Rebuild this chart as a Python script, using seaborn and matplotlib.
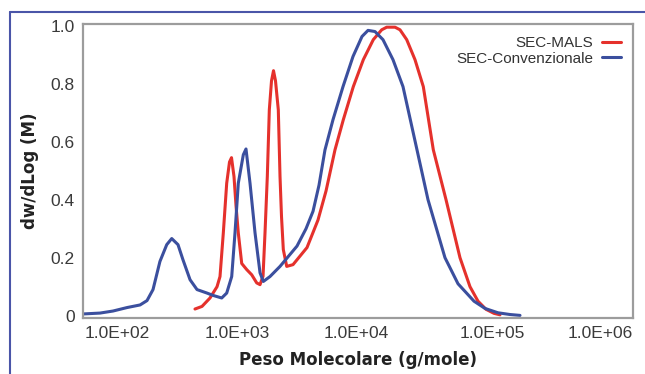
import numpy as np
import pandas as pd
import matplotlib
matplotlib.use("Agg")
import matplotlib.pyplot as plt
import seaborn as sns
from matplotlib.lines import Line2D
from matplotlib.transforms import ScaledTranslation
from matplotlib.ticker import FixedLocator, NullFormatter

# ---- data ----
blue_mw = [92.3, 122.7, 153, 194.5, 243, 273.5, 303, 341, 383, 417, 464, 505, 570, 642,
           761, 843, 978, 1065, 1160, 1227, 1298, 1414, 1480, 1585, 1726, 1880, 1989,
           2229, 2644, 3532, 4120, 4642, 5141, 5694, 6528, 7743, 9183, 10706, 11860,
           13360, 15310, 18160, 21540, 27350, 33000, 44080, 55060, 72300, 87250,
           108900, 133600, 158500]
blue_val = [0.006, 0.009, 0.016, 0.028, 0.037, 0.052, 0.09, 0.187, 0.245, 0.266, 0.245,
            0.193, 0.124, 0.09, 0.078, 0.07, 0.061, 0.078, 0.135, 0.286, 0.457, 0.555,
            0.575, 0.457, 0.286, 0.148, 0.118, 0.135, 0.17, 0.24, 0.30, 0.36, 0.45,
            0.572, 0.676, 0.79, 0.894, 0.963, 0.984, 0.98, 0.952, 0.883, 0.79, 0.572,
            0.40, 0.20, 0.11, 0.05, 0.025, 0.01, 0.004, 0.001]

red_mw = [620, 699, 801, 903, 950, 1005, 1065, 1117, 1156, 1206, 1248, 1298, 1376, 1498,
          1632, 1777, 1880, 1979, 2047, 2129, 2203, 2287, 2366, 2448, 2568, 2644, 2712,
          2797, 2964, 3300, 4190, 5054, 5794, 6753, 7785, 9230, 10950, 12980, 14980,
          16320, 18800, 20470, 22950, 26430, 30460, 36130, 44870, 56940, 67530, 77430,
          88740, 101700, 112700]
red_val = [0.023, 0.032, 0.061, 0.10, 0.135, 0.285, 0.457, 0.53, 0.545, 0.48, 0.38, 0.285,
           0.18, 0.159, 0.141, 0.113, 0.107, 0.136, 0.286, 0.48, 0.71, 0.81, 0.845, 0.81,
           0.71, 0.48, 0.342, 0.228, 0.17, 0.176, 0.235, 0.33, 0.43, 0.572, 0.676, 0.79,
           0.883, 0.952, 0.986, 0.995, 0.995, 0.986, 0.952, 0.883, 0.79, 0.572, 0.40,
           0.20, 0.10, 0.05, 0.022, 0.008, 0.003]

series_names = ["SEC-MALS", "SEC-Convenzionale"]
x_tick_vals = [1e2, 1e3, 1e4, 1e5, 1e6]
x_tick_labels = ["1.0E+02", "1.0E+03", "1.0E+04", "1.0E+05", "1.0E+06"]
y_tick_vals = [0, 0.2, 0.4, 0.6, 0.8, 1.0]
y_tick_labels = ["0", "0.2", "0.4", "0.6", "0.8", "1.0"]

RED = "#e5312c"
BLUE = "#3b4f9e"

sns.set_style("white")
plt.rcParams["font.family"] = ["Liberation Sans", "DejaVu Sans"]

fig = plt.figure(figsize=(6.45, 3.74), dpi=100)
ax = fig.add_axes([83 / 645, 1 - 318 / 374, (633 - 83) / 645, (318 - 24) / 374])

df_red = pd.DataFrame({"M": red_mw, "v": red_val})
df_blue = pd.DataFrame({"M": blue_mw, "v": blue_val})
sns.lineplot(data=df_red, x="M", y="v", color=RED, lw=2.2, label=series_names[0],
             sort=False, estimator=None, ax=ax, solid_joinstyle="round")
sns.lineplot(data=df_blue, x="M", y="v", color=BLUE, lw=2.2, label=series_names[1],
             sort=False, estimator=None, ax=ax, solid_joinstyle="round")

ax.set_xscale("log")
ax.set_xlim(91.8, 1.089e6)
ax.set_ylim(-0.008, 1.006)

ax.set_xticks(x_tick_vals)
ax.set_xticklabels(x_tick_labels)
minors = [m * d for d in [1e2, 1e3, 1e4, 1e5] for m in range(2, 10)]
ax.xaxis.set_minor_locator(FixedLocator(minors))
ax.xaxis.set_minor_formatter(NullFormatter())
ax.set_yticks(y_tick_vals)
ax.set_yticklabels(y_tick_labels)
ax.yaxis.set_minor_locator(FixedLocator([0.1, 0.3, 0.5, 0.7, 0.9]))

ax.tick_params(axis="both", which="major", direction="in", length=4, width=0.8,
               color="#888888", labelsize=12.5, labelcolor="#3a3a3a")
ax.tick_params(axis="both", which="minor", direction="in", length=3, width=0.7,
               color="#888888")
ax.tick_params(axis="x", which="major", pad=6)
ax.tick_params(axis="y", which="major", pad=6)

offsets = [29, 14, -2, -1, -28]
for lab, dx in zip(ax.get_xticklabels(), offsets):
    lab.set_transform(lab.get_transform() + ScaledTranslation(dx / 100, 0, fig.dpi_scale_trans))

for sp in ax.spines.values():
    sp.set_color("#9c9c9c")
    sp.set_linewidth(1.6)

ax.set_xlabel("Peso Molecolare (g/mole)", fontsize=12, fontweight="bold",
              family=["DejaVu Sans"], color="#222222", labelpad=7)
ax.set_ylabel("dw/dLog (M)", fontsize=12, fontweight="bold",
              family=["DejaVu Sans"], color="#222222", labelpad=8)

leg = ax.legend(loc="upper right", frameon=False, markerfirst=False, fontsize=11,
                handlelength=1.2, handletextpad=0.6, labelspacing=0.1,
                borderaxespad=0.4)
for t in leg.get_texts():
    t.set_color("#333333")
    t.set_ha("right")

# outer frame lines (top and left)
fig.add_artist(Line2D([10 / 645, 1.0], [1 - 12 / 374, 1 - 12 / 374],
                      transform=fig.transFigure, color="#4a55a8", lw=1.5))
fig.add_artist(Line2D([10 / 645, 10 / 645], [0, 1 - 12 / 374],
                      transform=fig.transFigure, color="#4a55a8", lw=1.5))

fig.savefig("out.png", dpi=100)
